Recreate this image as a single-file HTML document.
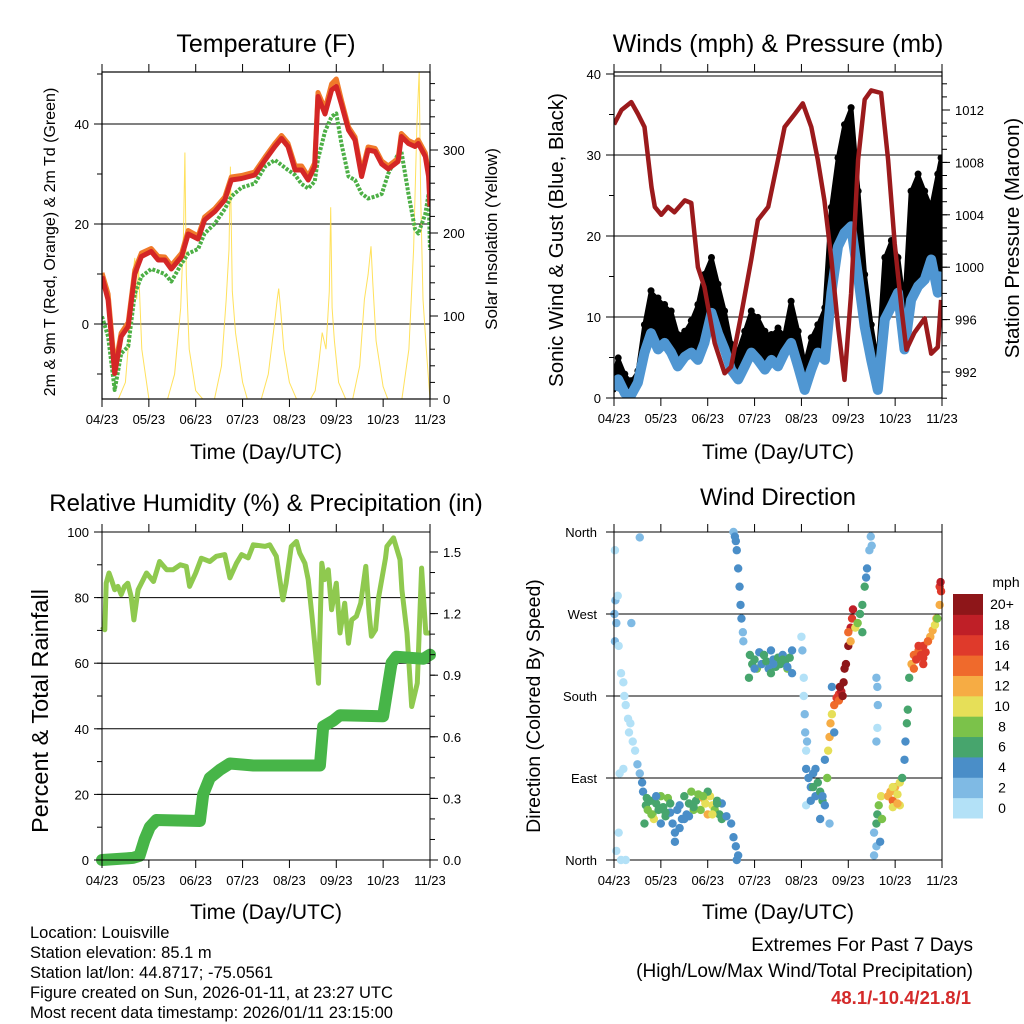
<!DOCTYPE html>
<html><head><meta charset="utf-8"><style>
html,body{margin:0;padding:0;background:#fff}
svg{display:block;font-family:"Liberation Sans",sans-serif}
</style></head><body>
<svg id="c" width="1024" height="1024" viewBox="0 0 1024 1024" xmlns="http://www.w3.org/2000/svg"></svg>
<script>
// ---------- DATA ----------
const xTickLabels = ["04/23","05/23","06/23","07/23","08/23","09/23","10/23","11/23"];
// Temperature panel
const tempTimes = [0,0.13,0.27,0.41,0.56,0.70,0.84,1.05,1.2,1.34,1.48,1.7,1.84,2.05,2.19,2.41,2.62,2.76,2.98,3.26,3.48,3.69,3.83,3.97,4.12,4.26,4.4,4.54,4.61,4.76,4.9,5.0,5.11,5.26,5.4,5.54,5.68,5.83,5.97,6.11,6.32,6.39,6.54,6.68,6.75,6.9,6.97,7.0];
const temp2m = [9.5,4.8,-9.9,-2.5,-0.5,10,13.5,14.5,12.8,12.8,11,13.5,18,17,20.8,22.5,24.8,28.8,29.1,29.8,32.8,35.5,37.1,35.5,30.8,30.8,28.8,31.5,45.5,42,46.8,47.5,44,38.8,36.8,29.5,34.8,34.5,32,31,32.5,37.5,36.1,35.5,36.1,33.5,29.5,23.5];
const temp9m = [10.2,6,-8.8,-1.8,0.3,10.8,14.2,15.1,13.5,13.4,11.7,14.2,18.7,17.6,21.4,23.1,25.4,29.4,29.7,30.4,33.4,36.1,37.7,36.1,31.6,31.6,29.5,32.2,46.3,43,48,49,44.8,39.4,37.4,30.3,35.4,35.1,32.6,31.6,33.1,38.1,36.7,36.1,36.8,34.2,30.3,24.3];
const dewpoint = [1.5,-2.5,-13.2,-5.9,-4.5,6.1,9.5,11,10.5,10,8.5,12.1,14.1,15,18.1,20.1,23,25.5,27.3,28.1,31.5,32.8,31.8,30.8,29.8,28,27.1,28.5,33,38.5,41.5,42.1,36.1,29.5,28.8,26.1,25.1,25.5,26,30.1,34,34.5,26.1,19,18.1,22,26,14.8];
const solarTimes = [0.35,0.5,0.6,0.66,0.70,0.74,0.78,0.85,1.0, 1.4,1.55,1.68,1.74,1.77,1.80,1.86,2.0,2.15, 2.4,2.55,2.65,2.71,2.74,2.78,2.85,3.0,3.1, 3.4,3.55,3.68,3.74,3.77,3.81,3.88,4.0,4.15, 4.45,4.55,4.62,4.7,4.78,4.85,4.88,4.91,4.96,5.05,5.2, 5.35,5.5,5.6,5.68,5.74,5.78,5.85,6.0,6.1, 6.4,6.55,6.65,6.72,6.77,6.8,6.85,6.92,7.0];
const solarValues = [0,20,90,150,170,120,160,60,0, 0,30,110,200,297,150,60,10,0, 0,40,120,180,280,130,80,20,0, 0,30,90,120,133,110,60,20,0, 0,10,40,80,60,130,231,110,70,20,0, 0,40,120,150,184,140,70,15,0, 0,60,180,330,395,250,120,60,0];
// Winds panel
const windTimes = [0,0.09,0.23,0.37,0.51,0.65,0.79,0.94,1.08,1.22,1.36,1.51,1.65,1.79,1.93,2.08,2.22,2.36,2.5,2.65,2.79,2.93,3.07,3.22,3.36,3.5,3.64,3.78,3.93,4.07,4.21,4.35,4.5,4.64,4.78,4.92,5.06,5.21,5.35,5.49,5.63,5.78,5.92,6.06,6.2,6.34,6.49,6.63,6.77,6.91,6.98];
const sonicWind = [1,2.3,0.6,0.4,1.9,5.6,8,6,6.8,5.6,3.9,5.1,5.6,4.7,6.8,10.5,8,6,3.5,2.3,3.9,5.6,4.7,3.5,4.7,3.9,5.6,6.8,3.9,1,3.5,5.6,4.7,13,18.7,20.4,21.2,15,8.8,4.7,1,9.7,11.3,13,6,12.1,13.8,14.6,17.1,13,15.6];
const gustWind = [2.7,4.7,2.7,1.9,3.1,8.8,13,12.1,11.3,10.5,7.6,8,9.3,11.3,15,17.1,13.8,10.5,6.4,5.6,8,10.5,9.7,8,7.6,8.4,7.6,11.7,8,3.9,7.2,8.8,10.9,23.3,29.4,33.5,35.6,25.3,15,8.8,3.9,17.1,19.2,17.1,10.9,25.3,27.4,25.3,23.3,27.4,29.4];
const presTimes = [0,0.16,0.37,0.51,0.65,0.80,0.87,1.01,1.15,1.29,1.51,1.65,1.79,1.93,2.15,2.36,2.5,2.72,2.93,3.07,3.29,3.5,3.64,3.86,4.03,4.21,4.35,4.49,4.64,4.78,4.92,5.06,5.21,5.35,5.49,5.7,5.85,5.99,6.14,6.24,6.41,6.63,6.77,6.91,6.98];
const pressure = [1010.9,1012,1012.6,1011.7,1010.7,1006.1,1004.6,1004,1004.6,1004.2,1005.1,1004.9,1000,998.5,994.2,991.9,992.4,996.5,1000.6,1003.6,1004.6,1008.2,1010.7,1011.7,1012.5,1010.7,1008.2,1005.1,1000.6,995.5,991.4,998,1008.2,1012.8,1013.5,1013.3,1008.2,1001.8,996.7,993.7,995,996.1,993.4,993.9,997.5];
// RH panel
const rhTimes = [0,0.06,0.09,0.15,0.2,0.27,0.34,0.41,0.48,0.55,0.62,0.68,0.77,0.88,0.95,1.1,1.23,1.38,1.52,1.67,1.8,1.87,2.0,2.12,2.3,2.44,2.62,2.73,2.87,2.98,3.12,3.23,3.48,3.58,3.72,3.86,3.93,4.04,4.15,4.22,4.33,4.4,4.49,4.62,4.69,4.75,4.83,4.9,5.0,5.08,5.18,5.26,5.33,5.43,5.52,5.63,5.7,5.75,5.84,5.9,6.05,6.08,6.22,6.36,6.4,6.51,6.61,6.73,6.82,6.91,7.0];
const rhValues = [71.2,70.2,84.4,87.5,85.5,82.4,83.4,80.9,83.4,84.4,80.4,73.2,82.4,85.5,87.5,84.9,91,88.5,88.5,90,89.5,83.4,87.5,92,91,92.6,93.1,86,90.5,93.1,92.1,96.1,95.6,96.1,92.6,79.3,84.4,95.6,97.1,93.6,90.5,85.5,73.2,53.9,90.5,85.5,88.5,76.3,84.4,69.2,78.3,66.1,73.2,74.3,78.3,89.5,75.3,68.2,70.2,79.9,92,95.6,98.2,91.6,82.4,69.2,46.8,53.9,89,69.2,69.2];
const rainTimes = [0,0.66,0.8,0.91,1.02,1.16,2.09,2.16,2.3,2.52,2.73,3.23,4.65,4.72,4.94,5.08,6.0,6.18,6.28,6.86,7.0];
const rainValues = [0,0.01,0.02,0.1,0.16,0.195,0.19,0.32,0.4,0.44,0.47,0.46,0.46,0.65,0.68,0.705,0.70,0.96,0.99,0.98,1.0];
// Wind direction panel: time (days), direction (deg), speed (mph)
const dirTimes = [0.01,0.03,0.05,0.02,0.08,0.1,0.15,0.2,0.22,0.25,0.3,0.32,0.35,0.4,0.45,0.5,0.05,0.1,0.15,0.25,0.12,0.02,0.55,0.6,0.2,0.37,0.55,
0.62,0.68,0.72,0.78,0.82,0.85,0.9,0.95,1.0,1.05,1.1,1.15,1.2,1.25,1.3,1.35,1.4,1.45,1.5,1.55,1.6,1.65,1.7,1.75,1.8,1.85,1.9,1.95,2.0,2.05,2.1,2.15,2.2,2.25,2.3,0.65,1.0,1.4,1.6,1.3,2.0,2.3,
2.5,2.55,2.6,2.65,2.62,2.55,2.6,2.62,2.65,2.68,2.7,2.72,2.75,2.76,2.58,
2.9,2.95,3.0,3.05,3.1,3.15,3.2,3.25,3.3,3.35,3.4,3.45,3.5,3.55,3.6,3.65,3.7,3.75,3.8,2.88,3.35,3.8,
4.0,4.02,4.05,4.07,4.08,4.1,4.05,4.1,4.12,
4.1,4.15,4.2,4.25,4.3,4.35,4.4,4.45,4.5,4.55,4.5,4.4,4.6,4.2,4.3,
4.57,4.6,4.62,4.65,4.7,4.75,4.8,4.85,4.9,4.95,5.0,5.05,5.08,5.1,4.7,4.65,4.8,4.88,5.0,5.05,
5.15,5.2,5.25,5.3,5.35,5.38,5.4,5.45,5.48,5.5,5.3,
5.6,5.62,5.63,5.62,5.6,
5.55,5.6,5.62,5.65,5.7,5.72,5.6,5.55,5.68,
5.85,5.9,5.95,6.0,6.05,6.1,6.15,6.2,6.22,6.25,6.27,5.95,6.1,
6.3,6.35,6.4,6.45,6.5,6.55,6.6,6.65,6.7,6.75,6.8,6.85,6.88,6.9,6.4,6.6,
6.95,6.97,6.98,6.95,
0.7,0.8,0.9,1.1,1.2,1.5,1.7,1.9,2.1,2.2,2.4,3.0,3.2,3.4,3.6,3.7,4.25,4.45,4.82,4.92,5.95,6.05,6.5,6.6,6.7];
const dirDegrees = [270,285,260,240,290,235,205,195,180,170,155,140,150,130,120,105,10,30,0,0,95,340,95,85,100,260,354,
75,60,55,65,50,45,62,55,70,58,48,68,52,40,30,55,60,45,70,50,62,75,55,65,72,55,68,62,50,70,60,55,65,50,45,40,40,35,48,20,75,62,
40,25,15,5,0,360,350,340,320,300,280,265,250,240,355,
225,215,220,210,228,215,225,218,210,230,220,212,222,215,225,218,210,222,230,200,205,205,
245,230,180,160,140,120,200,60,130,
100,90,80,95,70,85,75,65,60,90,110,45,40,65,100,
120,135,150,160,170,178,182,185,195,215,235,255,265,275,140,190,175,180,250,240,
255,260,270,280,300,310,320,340,355,345,250,
200,190,170,145,130,
30,40,50,60,70,45,15,5,20,
70,75,65,80,72,85,90,110,130,150,165,58,60,
200,215,225,220,230,225,235,228,240,245,252,258,265,265,210,215,
300,305,295,280,
68,50,70,52,62,45,58,70,50,62,48,210,225,215,220,212,80,70,190,210,80,62,235,222,240];
const dirSpeeds = [3,3,2,3,1,1,1,1,1,1,1,1,0,1,1,2,0,0,0,0,0,0,3,4,0,2,2,
5,6,8,7,8,10,7,6,8,7,6,8,5,4,4,5,4,5,6,4,7,8,8,7,8,8,12,11,12,11,10,8,6,7,6,6,5,4,4,4,6,5,
4,4,4,4,4,3,4,4,4,4,4,4,3,3,4,
6,6,7,8,4,4,4,6,4,4,4,6,6,6,4,6,8,6,4,6,6,4,
1,2,1,2,2,1,0,0,2,
4,4,4,4,5,6,6,6,4,8,4,4,3,5,4,
10,12,12,10,14,16,16,18,20,20,20,18,16,18,4,4,14,20,14,12,
10,8,6,6,6,4,4,2,2,2,6,
2,2,2,1,2,
2,6,7,8,10,8,2,2,4,
12,12,14,12,10,10,6,4,4,6,6,10,10,
6,12,14,16,14,16,16,16,14,12,12,10,12,8,14,16,
16,18,16,12,
6,8,4,6,7,4,6,8,11,6,4,4,6,4,6,4,6,4,20,20,10,12,16,16,14];
const speedColors = ["#b3e1f7","#7fbae4","#4a8ec8","#47a56d","#7bc24a","#e6df58","#f6ac44","#ef6a2c","#df3a2b","#bf1f27","#8e1619"];
const speedLabels = ["0","2","4","6","8","10","12","14","16","18","20+"];
const dirLabels = ["North","East","South","West","North"];

// ---------- HELPERS ----------
const svg = document.getElementById('c');
const NS = "http://www.w3.org/2000/svg";
function mk(tag, attrs, parent){
  const e = document.createElementNS(NS, tag);
  for (const k in attrs) e.setAttribute(k, attrs[k]);
  (parent||svg).appendChild(e);
  return e;
}
function txt(str, x, y, size, anchor, parent, extra){
  const t = mk('text', Object.assign({x:x,y:y,'font-size':size,'text-anchor':anchor||'middle',fill:'#000'}, extra||{}), parent);
  t.textContent = str;
  return t;
}
function scaleX(x0,x1){ return t => x0 + t*(x1-x0)/7; }
function scaleY(vmin,vmax,ybot,ytop){ return v => ybot - (v-vmin)*(ybot-ytop)/(vmax-vmin); }
function pathD(ts, vs, sx, sy){ return ts.map((t,i)=>(i?'L':'M')+sx(t).toFixed(1)+','+sy(vs[i]).toFixed(1)).join(''); }
function xAxis(g, x0, x1, yb, ytop){
  const sx = scaleX(x0,x1);
  xTickLabels.forEach((lab,i)=>{
    const x = sx(i);
    const tk = mk('line',{x1:x,x2:x,y1:yb,y2:yb+8,stroke:'#000','stroke-width':1},g);
    
    
    const tt = mk('line',{x1:x,x2:x,y1:ytop,y2:ytop-8,stroke:'#000','stroke-width':1},g);
    
    
    const t = txt(lab, x, yb+25, 13, 'middle', g);
    
    
  });
}
function hGrid(g, y, x0, x1){
  const l = mk('line',{x1:x0,x2:x1,y1:y,y2:y,stroke:'#000','stroke-width':1},g);
  
  
}
function yTicks(g, vals, sy, x, dir, labels, fmt, minorStep, vmin, vmax){
  vals.forEach((v,i)=>{
    const y = sy(v);
    const tk = mk('line',{x1:x,x2:x+dir*8,y1:y,y2:y,stroke:'#000','stroke-width':1},g);
    
    
    if (labels){
      const t = txt(labels[i], x+dir*13, y+5, 13, dir<0?'end':'start', g);
      
      
    }
  });
  if (minorStep){
    for (let v=Math.ceil(vmin/minorStep)*minorStep; v<=vmax+1e-9; v+=minorStep){
      const y = sy(v);
      const tk = mk('line',{x1:x,x2:x+dir*5,y1:y,y2:y,stroke:'#000','stroke-width':1},g);
      
      
    }
  }
}
function frame(g,x0,y0,x1,y1){
  const r = mk('rect',{x:x0,y:y0,width:x1-x0,height:y1-y0,fill:'none',stroke:'#000','stroke-width':1.2},g);
  
  
}
function clip(id,x0,y0,x1,y1){
  const cp = mk('clipPath',{id:id});
  mk('rect',{x:x0,y:y0,width:x1-x0,height:y1-y0},cp);
}

// ---------- PANEL 1: TEMPERATURE ----------
(function(){
  const X0=102,X1=430,YT=72,YB=399;
  const g = mk('g',{});
  
  
  clip('cp1',X0,YT,X1,YB);
  const sx = scaleX(X0,X1);
  const sy = scaleY(0,20,324,224);
  const sySol = scaleY(0,100,399,316);
  [0,20,40].forEach(v=>hGrid(g,sy(v),X0,X1));
  const data = mk('g',{'clip-path':'url(#cp1)'},g);
  const sol = mk('path',{d:pathD(solarTimes,solarValues,sx,sySol),fill:'none',stroke:'#ffdc40','stroke-width':1,'stroke-opacity':0.85},data);
  
  
  const td = mk('path',{d:pathD(tempTimes,dewpoint,sx,sy),fill:'none',stroke:'#4caf45','stroke-width':4,'stroke-dasharray':'3 1.5','stroke-linejoin':'round'},data);
  
  
  const t9 = mk('path',{d:pathD(tempTimes,temp9m,sx,sy),fill:'none',stroke:'#f07a2a','stroke-width':5,'stroke-linejoin':'round'},data);
  
  
  const t2 = mk('path',{d:pathD(tempTimes,temp2m,sx,sy),fill:'none',stroke:'#d42626','stroke-width':5,'stroke-linejoin':'round'},data);
  
  
  frame(g,X0,YT,X1,YB);
  xAxis(g,X0,X1,YB,YT);
  yTicks(g,[0,20,40],sy,X0,-1,["0","20","40"],null,10,-15,50);
  yTicks(g,[0,100,200,300],sySol,X1,1,["0","100","200","300"],null,20,0,390);
  const ti = txt('Temperature (F)',266,52,25,'middle',g);  
  const xl = txt('Time (Day/UTC)',266,459,21,'middle',g);  
  const yl = txt('2m & 9m T (Red, Orange) & 2m Td (Green)',0,0,16,'middle',g,{transform:'translate(55,242) rotate(-90)'});  
  const yr = txt('Solar Insolation (Yellow)',0,0,17,'middle',g,{transform:'translate(497,239) rotate(-90)'});  
})();

// ---------- PANEL 2: WINDS ----------
(function(){
  const X0=614,X1=942,YT=72,YB=398;
  const g = mk('g',{});
  
  
  clip('cp2',X0,YT+5,X1,YB);
  const sx = scaleX(X0,X1);
  const sy = scaleY(0,10,398,317);
  const syP = scaleY(992,1012,372,110);
  [10,20,30].forEach(v=>hGrid(g,sy(v),X0,X1));
  const data = mk('g',{'clip-path':'url(#cp2)'},g);
  let d = windTimes.map((t,i)=>(i?'L':'M')+sx(t).toFixed(1)+','+sy(gustWind[i]).toFixed(1)).join('');
  for (let i=windTimes.length-1;i>=0;i--) d += 'L'+sx(windTimes[i]).toFixed(1)+','+sy(sonicWind[i]).toFixed(1);
  const band = mk('path',{d:d+'Z',fill:'#000',stroke:'#000','stroke-width':5,'stroke-linejoin':'round'},data);
  
  
  windTimes.forEach((t,i)=>{
    const c = mk('circle',{cx:sx(t),cy:sy(gustWind[i])-2,r:3.5,fill:'#000'},data);
    
    
  });
  const w = mk('path',{d:pathD(windTimes,sonicWind,sx,sy),fill:'none',stroke:'#4f96d2','stroke-width':10,'stroke-linejoin':'round'},data);
  
  
  const p = mk('path',{d:pathD(presTimes,pressure,sx,syP),fill:'none',stroke:'#9b1a1c','stroke-width':4.5,'stroke-linejoin':'round'},data);
  
  
  frame(g,X0,YT,X1,YB);
  hGrid(g,76,X0,X1);
  xAxis(g,X0,X1,YB,YT);
  yTicks(g,[0,10,20,30,40],sy,X0,-1,["0","10","20","30","40"],null,5,0,40);
  yTicks(g,[992,996,1000,1004,1008,1012],syP,X1,1,["992","996","1000","1004","1008","1012"],null,1,990,1014);
  const ti = txt('Winds (mph) & Pressure (mb)',778,52,25,'middle',g);  
  const xl = txt('Time (Day/UTC)',778,459,21,'middle',g);  
  const yl = txt('Sonic Wind & Gust (Blue, Black)',0,0,20.5,'middle',g,{transform:'translate(563,240) rotate(-90)'});  
  const yr = txt('Station Pressure (Maroon)',0,0,20.5,'middle',g,{transform:'translate(1019,238) rotate(-90)'});  
})();

// ---------- PANEL 3: RH & PRECIP ----------
(function(){
  const X0=102,X1=430,YT=532,YB=860;
  const g = mk('g',{});
  
  
  clip('cp3',X0-8,YT,X1+8,YB+8);
  const sx = scaleX(X0,X1);
  const sy = scaleY(0,100,860,532);
  const syR = scaleY(0,1.5,860,552);
  [20,40,60,80].forEach(v=>hGrid(g,sy(v),X0,X1));
  const data = mk('g',{'clip-path':'url(#cp3)'},g);
  const rh = mk('path',{d:pathD(rhTimes,rhValues,sx,sy),fill:'none',stroke:'#8fc94f','stroke-width':5,'stroke-linejoin':'round'},data);
  
  
  const rn = mk('path',{d:pathD(rainTimes,rainValues,sx,syR),fill:'none',stroke:'#47b548','stroke-width':12,'stroke-linejoin':'round','stroke-linecap':'round'},data);
  
  
  mk('line',{x1:X0,x2:X0,y1:YT,y2:YB,stroke:'#000'},g);
  mk('line',{x1:X1,x2:X1,y1:YT,y2:YB,stroke:'#000'},g);
  hGrid(g,YT,X0,X1); hGrid(g,YB,X0,X1);
  xAxis(g,X0,X1,YB,YT);
  yTicks(g,[0,20,40,60,80,100],sy,X0,-1,["0","20","40","60","80","100"],null,10,0,100);
  yTicks(g,[0,0.3,0.6,0.9,1.2,1.5],syR,X1,1,["0.0","0.3","0.6","0.9","1.2","1.5"],null,0.1,0,1.59);
  const ti = txt('Relative Humidity (%) & Precipitation (in)',266,511,24,'middle',g);  
  const xl = txt('Time (Day/UTC)',266,919,21,'middle',g);  
  const yl = txt('Percent & Total Rainfall',0,0,23.5,'middle',g,{transform:'translate(48,711) rotate(-90)'});  
})();

// ---------- PANEL 4: WIND DIRECTION ----------
(function(){
  const X0=614,X1=942,YT=532,YB=860;
  const g = mk('g',{});
  
  
  const sx = scaleX(X0,X1);
  const sy = scaleY(0,360,860,532);
  [0,90,180,270,360].forEach(v=>hGrid(g,sy(v),X0,X1));
  dirTimes.forEach((t,i)=>{
    const bin = Math.min(10, Math.floor(dirSpeeds[i]/2));
    const c = mk('circle',{cx:sx(t),cy:sy(dirDegrees[i]),r:4.2,fill:speedColors[bin]},g);
    
    
  });
  mk('line',{x1:X0,x2:X0,y1:YT,y2:YB,stroke:'#000'},g);
  mk('line',{x1:X1,x2:X1,y1:YT,y2:YB,stroke:'#000'},g);
  xAxis(g,X0,X1,YB,YT);
  [0,90,180,270,360].forEach((v,i)=>{
    const y = sy(v);
    mk('line',{x1:X0,x2:X0-8,y1:y,y2:y,stroke:'#000'},g);
    const t = txt(dirLabels[i],X0-17,y+5,13,'end',g);
    
    
  });
  const cb = mk('g',{},g);
  
  
  const boxH = (818-594)/11;
  speedColors.forEach((col,i)=>{
    const y = 818 - (i+1)*boxH;
    const r = mk('rect',{x:953,y:y,width:30,height:boxH+0.5,fill:col},cb);
    
    
    const t = txt(speedLabels[i],1002,y+boxH/2+5,14,'middle',cb);
    
    
  });
  const u = txt('mph',1006,587,14,'middle',cb);  
  const ti = txt('Wind Direction',778,505,24,'middle',g);  
  const xl = txt('Time (Day/UTC)',778,919,21,'middle',g);  
  const yl = txt('Direction (Colored By Speed)',0,0,19.5,'middle',g,{transform:'translate(540,706) rotate(-90)'});  
})();

// ---------- FOOTER ----------
(function(){
  const g = mk('g',{});
  
  
  ["Location: Louisville","Station elevation: 85.1 m","Station lat/lon: 44.8717; -75.0561","Figure created on Sun, 2026-01-11, at 23:27 UTC","Most recent data timestamp: 2026/01/11 23:15:00"].forEach((s,i)=>{
    const t = txt(s,30,938+i*20,16.5,'start',g);
    
    
  });
  const g2 = mk('g',{});
  
  
  const a = txt('Extremes For Past 7 Days',973,951,19,'end',g2);  
  const b = txt('(High/Low/Max Wind/Total Precipitation)',973,977,19,'end',g2);  
  const c = txt('48.1/-10.4/21.8/1',971,1004,18.5,'end',g2,{fill:'#d42a2a','font-weight':'bold'});  
})();
</script>
</body></html>
